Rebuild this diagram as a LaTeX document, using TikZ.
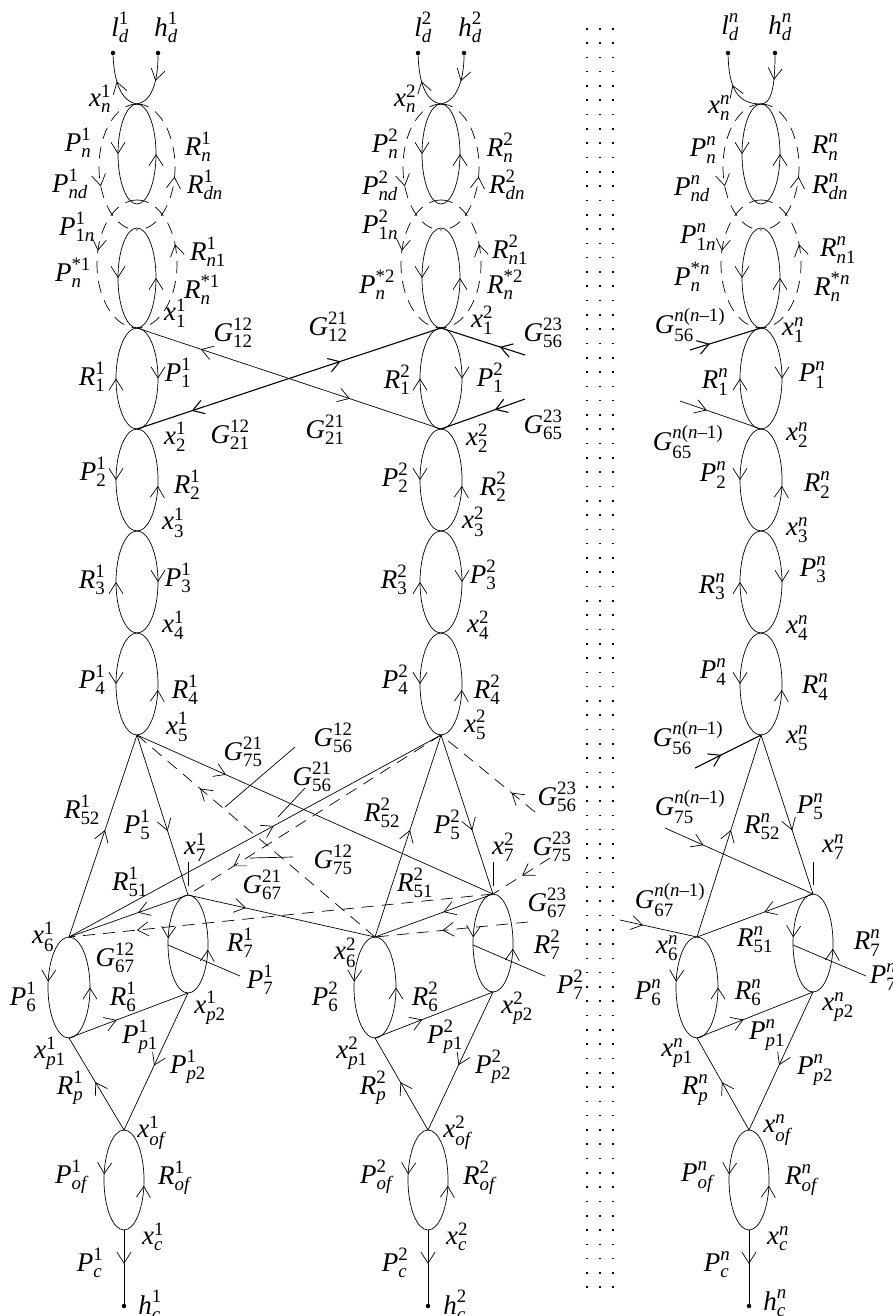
\documentclass[tikz,border=0pt]{standalone}
\usepackage{amsmath}
\usepackage{fontspec}
\setmainfont{Liberation Serif}
\usetikzlibrary{arrows.meta,decorations.markings}
\newcommand\I[1]{\textit{#1}}
\newcommand\lbl[5]{\node[lab] (#1) at (#2) {$\text{\itshape #3}^{\text{\upshape #4}}_{\text{\upshape #5}}$};}
\newcommand\loopE[5]{%
 \draw[ln,#4] (#1) arc[start angle=-90,end angle=-270,x radius=#2,y radius=#3];
 \draw[ln,#5] (#1) arc[start angle=-90,end angle=90,x radius=#2,y radius=#3];}
\newcommand\dloopE[5]{%
 \draw[dsh,#4] (#1) arc[start angle=-90,end angle=-270,x radius=#2,y radius=#3];
 \draw[dsh,#5] (#1) arc[start angle=-90,end angle=90,x radius=#2,y radius=#3];}
\tikzset{
 >={Straight Barb[length=11pt,width=14pt]},
 ln/.style={line width=0.7pt},
 thk/.style={line width=1.1pt},
 dsh/.style={line width=0.7pt,dash pattern=on 12pt off 8pt},
 fa/.style={postaction={decorate,decoration={markings,mark=at position #1 with {\arrow{>}}}}},
 ra/.style={postaction={decorate,decoration={markings,mark=at position #1 with {\arrowreversed{>}}}}},
 lab/.style={inner sep=0pt,font=\fontsize{27}{29}\selectfont},
 blob/.style={circle,fill,inner sep=0pt,minimum size=4.5pt},
 sepline/.style={line width=1.6pt,dash pattern=on 1.6pt off 12.7pt},
}
\begin{document}
\begin{tikzpicture}[x=1pt,y=-1pt]
\useasboundingbox (0,0) rectangle (893,1316);
% ---------- coordinates column 1
\coordinate (A0) at (137,104);
\coordinate (A0d) at (137,200);
\coordinate (A0b) at (137,228);
\coordinate (A1) at (137,328);
\coordinate (A2) at (137,429);
\coordinate (A3) at (137,531);
\coordinate (A4) at (137,633);
\coordinate (A5) at (137,735);
\coordinate (A6) at (69,937);
\coordinate (A7) at (188,895);
\coordinate (Ap1) at (69,1038);
\coordinate (Ap2) at (188,993);
\coordinate (Aof) at (124,1130);
\coordinate (Ac) at (124,1230);
\coordinate (A7l) at (168,945);
\coordinate (A7e) at (240,976);
\coordinate (A7t1) at (188,862);
\coordinate (A7t2) at (188,886);
\node[blob] (Ald) at (113,53) {};
\node[blob] (Ahd) at (158,53) {};
\node[blob] (Ahc) at (124,1306) {};
% ---------- coordinates column 2
\coordinate (B0) at (441,104);
\coordinate (B0d) at (441,200);
\coordinate (B0b) at (441,228);
\coordinate (B1) at (441,328);
\coordinate (B2) at (441,429);
\coordinate (B3) at (441,531);
\coordinate (B4) at (441,633);
\coordinate (B5) at (441,735);
\coordinate (B6) at (375,937);
\coordinate (B7) at (493,894);
\coordinate (Bp1) at (375,1038);
\coordinate (Bp2) at (493,992);
\coordinate (Bof) at (428,1130);
\coordinate (Bc) at (428,1230);
\coordinate (B7l) at (473,945);
\coordinate (B7e) at (545,976);
\coordinate (B7t1) at (493,862);
\coordinate (B7t2) at (493,886);
\node[blob] (Bld) at (418,53) {};
\node[blob] (Bhd) at (464,53) {};
\node[blob] (Bhc) at (428,1306) {};
% ---------- coordinates column 3
\coordinate (C0) at (761,104);
\coordinate (C0d) at (761,200);
\coordinate (C0b) at (761,228);
\coordinate (C1) at (761,328);
\coordinate (C2) at (761,429);
\coordinate (C3) at (761,531);
\coordinate (C4) at (761,633);
\coordinate (C5) at (761,735);
\coordinate (C6) at (697,937);
\coordinate (C7) at (813,894);
\coordinate (Cp1) at (697,1038);
\coordinate (Cp2) at (813,992);
\coordinate (Cof) at (749,1130);
\coordinate (Cc) at (749,1230);
\coordinate (C7l) at (793,945);
\coordinate (C7e) at (866,976);
\coordinate (C7t1) at (813,862);
\coordinate (C7t2) at (813,885);
\node[blob] (Cld) at (728,53) {};
\node[blob] (Chd) at (775,53) {};
\node[blob] (Chc) at (749,1306) {};
% free ends
\coordinate (G56t) at (525,355);
\coordinate (G65t) at (525,399);
\coordinate (Gn56t) at (690,350);
\coordinate (Gn65t) at (680,401);
\coordinate (G56b) at (535,812);
\coordinate (G75b) at (550,858);
\coordinate (G67b) at (528,922);
\coordinate (Gn56b) at (695,768);
\coordinate (Gn75b) at (665,828);
\coordinate (Gn67b) at (620,920);
\coordinate (L1a) at (295,747);
\coordinate (L1b) at (225,807);
\coordinate (L2a) at (305,788);
\coordinate (L2b) at (278,817);
\coordinate (L3a) at (293,857);
\coordinate (L3b) at (250,858);
% ---------- ellipses
\foreach \c in {A,B,C}{
 \loopE{\c0}{19}{50}{fa=0.5}{ra=0.5}
 \loopE{\c0b}{19}{50}{fa=0.5}{ra=0.5}
 \loopE{\c1}{21}{50.5}{ra=0.5}{fa=0.5}
 \loopE{\c2}{21}{51}{fa=0.5}{ra=0.55}
 \loopE{\c3}{21}{51}{ra=0.5}{fa=0.5}
 \loopE{\c4}{21}{51}{fa=0.5}{ra=0.55}
 \loopE{\c6}{21}{50.5}{fa=0.45}{ra=0.5}
 \loopE{\c7}{20}{49}{fa=0.45}{ra=0.55}
 \loopE{\c of}{20}{50}{fa=0.45}{ra=0.55}
 \dloopE{\c0}{38}{63}{fa=0.62}{ra=0.56}
 \dloopE{\c0d}{40}{64}{fa=0.42}{ra=0.38}
 \draw[ln,fa=0.53] (\c6) -- (\c5);
 \draw[ln,fa=0.6] (\c5) -- (\c7);
 \draw[ln,fa=0.42] (\c7) -- (\c6);
 \draw[ln,fa=0.4] (\c p1) -- (\c p2);
 \draw[ln,fa=0.53] (\c p2) -- (\c of);
 \draw[ln,fa=0.52] (\c of) -- (\c p1);
 \draw[ln,fa=0.46] (\c c) -- (\c hc);
 \draw[ln] (\c7l) -- (\c7e);
 \draw[ln] (\c7t1) -- (\c7t2);
}
% top curves
\draw[ln,fa=0.55] (A0) .. controls +(-15,-2) and +(1,30) .. (Ald);
\draw[ln,fa=0.45] (Ahd) .. controls +(0,30) and +(14,-2) .. (A0);
\draw[ln,fa=0.55] (B0) .. controls +(-15,-2) and +(1,30) .. (Bld);
\draw[ln,fa=0.45] (Bhd) .. controls +(0,30) and +(14,-2) .. (B0);
\draw[ln,fa=0.55] (C0) .. controls +(-24,0) and +(1,35) .. (Cld);
\draw[ln,fa=0.45] (Chd) .. controls +(0,35) and +(10,0) .. (C0);
% cross lines top
\draw[ln,ra=0.21,fa=0.7] (A1) -- (B2);
\draw[thk,ra=0.18,fa=0.67] (A2) -- (B1);
\draw[thk,fa=0.3] (G56t) -- (B1);
\draw[thk,fa=0.36] (G65t) -- (B2);
\draw[thk,fa=0.28] (Gn56t) -- (C1);
\draw[ln,fa=0.33] (Gn65t) -- (C2);
% cross lines bottom
\draw[ln,fa=0.25] (A5) -- (B7);
\draw[ln,fa=0.55] (A6) -- (B5);
\draw[ln,fa=0.31] (A7) -- (B6);
\draw[dsh,fa=0.735] (B6) -- (A5);
\draw[dsh,fa=0.84] (B7) -- (A6);
\draw[dsh,fa=0.82] (B5) -- (A7);
\draw[dsh,fa=0.25] (G56b) -- (B5);
\draw[dsh,fa=0.49] (G75b) -- (B7);
\draw[dsh,fa=0.56] (G67b) -- (B6);
\draw[thk,fa=0.4] (Gn56b) -- (C5);
\draw[ln,fa=0.26] (Gn75b) -- (C7);
\draw[ln,fa=0.3] (Gn67b) -- (C6);
\draw[ln] (L1a) -- (L1b);
\draw[ln] (L2a) -- (L2b);
\draw[ln] (L3a) -- (L3b);
% separator
\coordinate (S1a) at (587,28); \coordinate (S1b) at (587,1290);
\coordinate (S2a) at (600,28); \coordinate (S2b) at (600,1290);
\coordinate (S3a) at (613,28); \coordinate (S3b) at (613,1290);
\draw[sepline] (S1a) -- (S1b);
\draw[sepline] (S2a) -- (S2b);
\draw[sepline] (S3a) -- (S3b);
% ---------- labels column 1
\lbl{tld1}{120,27}{l}{1}{\I{d}}
\lbl{thd1}{166,27}{h}{1}{\I{d}}
\lbl{txn1}{100,99}{x}{1}{\I{n}}
\lbl{tPn1}{78,143}{P}{1}{\I{n}}
\lbl{tRn1}{198,147}{R}{1}{\I{n}}
\lbl{tPnd1}{70,184}{P}{1}{\I{nd}}
\lbl{tRdn1}{205,185}{R}{1}{\I{dn}}
\lbl{tP1n1}{77,227}{P}{1}{1\I{n}}
\lbl{tRn11}{208,252}{R}{1}{\I{n}1}
\lbl{tPns1}{73,273}{P}{*1}{\I{n}}
\lbl{tRns1}{202,290}{R}{*1}{\I{n}}
\lbl{tx11}{175,313}{x}{1}{1}
\lbl{tG1212}{233,333}{G}{12}{12}
\lbl{tR11}{92,377}{R}{1}{1}
\lbl{tP11}{178,373}{P}{1}{1}
\lbl{tx21}{175,437}{x}{1}{2}
\lbl{tG2112}{230,435}{G}{12}{21}
\lbl{tP21}{93,472}{P}{1}{2}
\lbl{tR21}{187,485}{R}{1}{2}
\lbl{tx31}{173,523}{x}{1}{3}
\lbl{tR31}{92,580}{R}{1}{3}
\lbl{tP31}{178,578}{P}{1}{3}
\lbl{tx41}{173,625}{x}{1}{4}
\lbl{tP41}{92,680}{P}{1}{4}
\lbl{tR41}{185,690}{R}{1}{4}
\lbl{tx51}{177,727}{x}{1}{5}
\lbl{tG7521}{243,752}{G}{21}{75}
\lbl{tG5612}{333,738}{G}{12}{56}
\lbl{tG5621}{312,777}{G}{21}{56}
\lbl{tR521}{82,810}{R}{1}{52}
\lbl{tP51}{137,825}{P}{1}{5}
\lbl{tx71}{195,847}{x}{1}{7}
\lbl{tG7512}{333,860}{G}{12}{75}
\lbl{tR511}{130,882}{R}{1}{51}
\lbl{tG6721}{262,885}{G}{21}{67}
\lbl{tx61}{43,937}{x}{1}{6}
\lbl{tG6712}{115,958}{G}{12}{67}
\lbl{tR71}{240,943}{R}{1}{7}
\lbl{tP71}{260,980}{P}{1}{7}
\lbl{tP61}{23,997}{P}{1}{6}
\lbl{tR61}{123,997}{R}{1}{6}
\lbl{txp21}{210,1008}{x}{1}{\I{p}2}
\lbl{tPp11}{140,1037}{P}{1}{\I{p}1}
\lbl{txp11}{50,1053}{x}{1}{\I{p}1}
\lbl{tPp21}{188,1067}{P}{1}{\I{p}2}
\lbl{tRp1}{70,1088}{R}{1}{\I{p}}
\lbl{txof1}{152,1133}{x}{1}{\I{of}}
\lbl{tPof1}{72,1177}{P}{1}{\I{of}}
\lbl{tRof1}{175,1178}{R}{1}{\I{of}}
\lbl{txc1}{153,1237}{x}{1}{\I{c}}
\lbl{tPc1}{90,1263}{P}{1}{\I{c}}
\lbl{thc1}{150,1305}{h}{1}{\I{c}}
% ---------- labels column 2
\lbl{tld2}{423,27}{l}{2}{\I{d}}
\lbl{thd2}{470,27}{h}{2}{\I{d}}
\lbl{txn2}{405,99}{x}{2}{\I{n}}
\lbl{tPn2}{385,144}{P}{2}{\I{n}}
\lbl{tRn2}{500,148}{R}{2}{\I{n}}
\lbl{tPnd2}{380,186}{P}{2}{\I{nd}}
\lbl{tRdn2}{507,185}{R}{2}{\I{dn}}
\lbl{tP1n2}{380,225}{P}{2}{1\I{n}}
\lbl{tRn12}{510,250}{R}{2}{\I{n}1}
\lbl{tPns2}{377,285}{P}{*2}{\I{n}}
\lbl{tRns2}{505,285}{R}{*2}{\I{n}}
\lbl{tx12}{482,320}{x}{2}{1}
\lbl{tG1221}{328,327}{G}{21}{12}
\lbl{tG5623}{543,333}{G}{23}{56}
\lbl{tR12}{397,380}{R}{2}{1}
\lbl{tP12}{490,378}{P}{2}{1}
\lbl{tG2121}{325,430}{G}{21}{21}
\lbl{tx22}{477,438}{x}{2}{2}
\lbl{tG6523}{543,425}{G}{23}{65}
\lbl{tP22}{395,478}{P}{2}{2}
\lbl{tR22}{493,487}{R}{2}{2}
\lbl{tx32}{473,522}{x}{2}{3}
\lbl{tR32}{394,580}{R}{2}{3}
\lbl{tP32}{483,575}{P}{2}{3}
\lbl{tx42}{478,625}{x}{2}{4}
\lbl{tP42}{395,680}{P}{2}{4}
\lbl{tR42}{487,690}{R}{2}{4}
\lbl{tx52}{475,725}{x}{2}{5}
\lbl{tG5623b}{557,797}{G}{23}{56}
\lbl{tR522}{382,813}{R}{2}{52}
\lbl{tP52}{447,825}{P}{2}{5}
\lbl{tx72}{503,847}{x}{2}{7}
\lbl{tG7523}{552,847}{G}{23}{75}
\lbl{tR512}{415,883}{R}{2}{51}
\lbl{tG6723}{547,903}{G}{23}{67}
\lbl{tx62}{345,953}{x}{2}{6}
\lbl{tR72}{547,945}{R}{2}{7}
\lbl{tP72}{570,985}{P}{2}{7}
\lbl{tP62}{325,997}{P}{2}{6}
\lbl{tR62}{425,997}{R}{2}{6}
\lbl{txp22}{517,1008}{x}{2}{\I{p}2}
\lbl{tPp12}{445,1037}{P}{2}{\I{p}1}
\lbl{txp12}{352,1053}{x}{2}{\I{p}1}
\lbl{tPp22}{493,1067}{P}{2}{\I{p}2}
\lbl{tRp2}{373,1088}{R}{2}{\I{p}}
\lbl{txof2}{458,1133}{x}{2}{\I{of}}
\lbl{tPof2}{377,1177}{P}{2}{\I{of}}
\lbl{tRof2}{480,1178}{R}{2}{\I{of}}
\lbl{txc2}{457,1237}{x}{2}{\I{c}}
\lbl{tPc2}{395,1263}{P}{2}{\I{c}}
\lbl{thc2}{455,1305}{h}{2}{\I{c}}
% ---------- labels column 3
\lbl{tld3}{730,27}{l}{\I{n}}{\I{d}}
\lbl{thd3}{780,27}{h}{\I{n}}{\I{d}}
\lbl{txn3}{719,108}{x}{\I{n}}{\I{n}}
\lbl{tPn3}{703,150}{P}{\I{n}}{\I{n}}
\lbl{tRn3}{825,147}{R}{\I{n}}{\I{n}}
\lbl{tPnd3}{692,189}{P}{\I{n}}{\I{nd}}
\lbl{tRdn3}{830,187}{R}{\I{n}}{\I{dn}}
\lbl{tP1n3}{698,237}{P}{\I{n}}{1\I{n}}
\lbl{tRn13}{838,250}{R}{\I{n}}{\I{n}1}
\lbl{tPns3}{692,277}{P}{*\I{n}}{\I{n}}
\lbl{tRns3}{832,287}{R}{*\I{n}}{\I{n}}
\lbl{tGn56}{690,325}{G}{\I{n}(\I{n}--1)}{56}
\lbl{tx13}{793,330}{x}{\I{n}}{1}
\lbl{tR13}{715,382}{R}{\I{n}}{1}
\lbl{tP13}{812,375}{P}{\I{n}}{1}
\lbl{tGn65}{688,442}{G}{\I{n}(\I{n}--1)}{65}
\lbl{tx23}{797,435}{x}{\I{n}}{2}
\lbl{tP23}{713,475}{P}{\I{n}}{2}
\lbl{tR23}{817,485}{R}{\I{n}}{2}
\lbl{tx33}{797,530}{x}{\I{n}}{3}
\lbl{tR33}{712,587}{R}{\I{n}}{3}
\lbl{tP33}{813,570}{P}{\I{n}}{3}
\lbl{tx43}{797,628}{x}{\I{n}}{4}
\lbl{tP43}{713,672}{P}{\I{n}}{4}
\lbl{tR43}{815,687}{R}{\I{n}}{4}
\lbl{tGn56b}{688,738}{G}{\I{n}(\I{n}--1)}{56}
\lbl{tx53}{797,738}{x}{\I{n}}{5}
\lbl{tGn75}{690,807}{G}{\I{n}(\I{n}--1)}{75}
\lbl{tP53}{810,807}{P}{\I{n}}{5}
\lbl{tR523}{762,827}{R}{\I{n}}{52}
\lbl{tx73}{833,847}{x}{\I{n}}{7}
\lbl{tGn67}{670,900}{G}{\I{n}(\I{n}--1)}{67}
\lbl{tR513}{755,940}{R}{\I{n}}{51}
\lbl{tx63}{667,948}{x}{\I{n}}{6}
\lbl{tR73}{867,943}{R}{\I{n}}{7}
\lbl{tP73}{883,977}{P}{\I{n}}{7}
\lbl{tP63}{648,993}{P}{\I{n}}{6}
\lbl{tR63}{748,993}{R}{\I{n}}{6}
\lbl{txp23}{838,1007}{x}{\I{n}}{\I{p}2}
\lbl{tPp13}{767,1035}{P}{\I{n}}{\I{p}1}
\lbl{txp13}{677,1053}{x}{\I{n}}{\I{p}1}
\lbl{tPp23}{815,1070}{P}{\I{n}}{\I{p}2}
\lbl{tRp3}{695,1090}{R}{\I{n}}{\I{p}}
\lbl{txof3}{778,1130}{x}{\I{n}}{\I{of}}
\lbl{tPof3}{698,1177}{P}{\I{n}}{\I{of}}
\lbl{tRof3}{802,1180}{R}{\I{n}}{\I{of}}
\lbl{txc3}{778,1239}{x}{\I{n}}{\I{c}}
\lbl{tPc3}{717,1265}{P}{\I{n}}{\I{c}}
\lbl{thc3}{775,1303}{h}{\I{n}}{\I{c}}
\end{tikzpicture}
\end{document}
